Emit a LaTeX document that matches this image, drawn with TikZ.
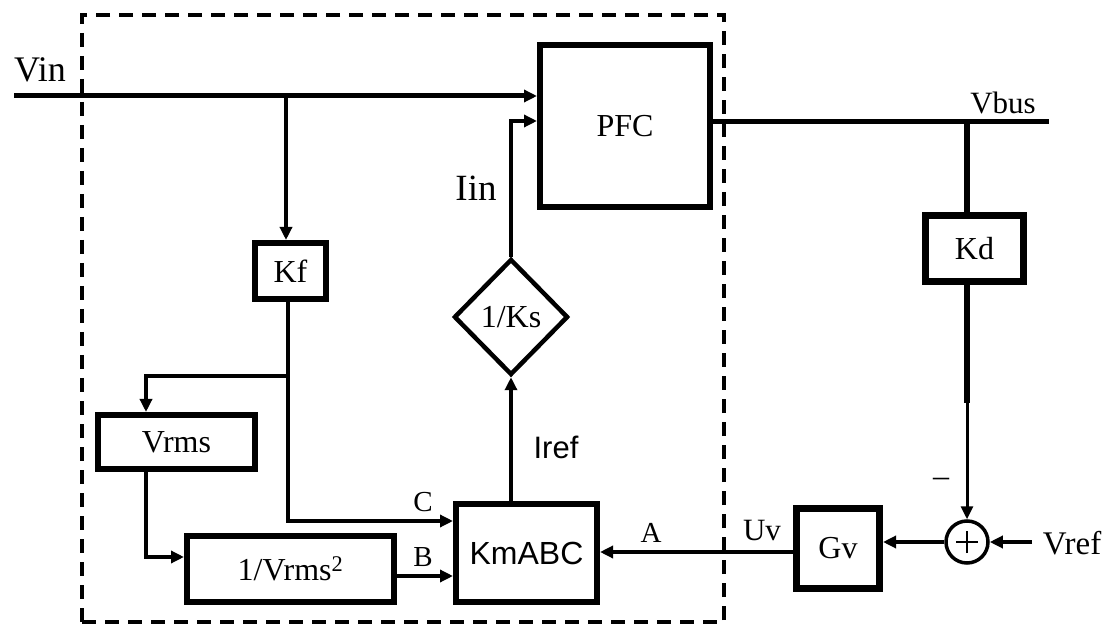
\documentclass[tikz,border=0pt]{standalone}
\usepackage{fontspec}
\setmainfont{Liberation Serif}
\setsansfont{Liberation Sans}
\usetikzlibrary{arrows.meta,shapes.geometric}
\begin{document}
\begin{tikzpicture}[x=1pt,y=-1pt,
  blk/.style={draw,line width=6pt,inner sep=0pt,font=\fontsize{32}{36}\selectfont},
  conn/.style={line width=3.5pt},
  thick5/.style={line width=5pt},
  arr/.style={conn,-{Triangle[length=13pt,width=12pt]}},
  txt/.style={font=\fontsize{32}{36}\selectfont,inner sep=0pt},
  small/.style={font=\fontsize{29}{32}\selectfont,inner sep=0pt},
  sanstxt/.style={font=\sffamily\fontsize{31}{34}\selectfont,inner sep=0pt}]
\useasboundingbox (0,0) rectangle (1109,628);
% dashed frame
\node[draw,line width=4.5pt,dash pattern=on 14pt off 9pt,minimum width=642pt,minimum height=607pt,inner sep=0pt] (frame) at (403,318.5) {};
% blocks
\node[blk,minimum width=170pt,minimum height=162pt] (pfc) at (625,126) {PFC};
\node[blk,minimum width=71pt,minimum height=56pt] (kf) at (290.5,271) {Kf};
\node[blk,minimum width=157pt,minimum height=54pt] (vrms) at (176.5,442) {Vrms};
\node[blk,minimum width=207pt,minimum height=66pt] (inv) at (290.5,569) {1/Vrms\textsuperscript{2}};
\node[blk,minimum width=141pt,minimum height=98pt,font=\sffamily\fontsize{32}{36}\selectfont] (km) at (526.5,553) {KmABC};
\node[blk,diamond,line width=4.5pt,minimum width=114pt,minimum height=116pt] (ks) at (511,317) {1/Ks};
\node[blk,line width=7pt,minimum width=98pt,minimum height=66pt] (kd) at (974.5,248.5) {Kd};
\node[blk,line width=7pt,minimum width=83pt,minimum height=80pt] (gv) at (838,548.5) {Gv};
\node[draw,circle,line width=3.5pt,minimum size=42pt,inner sep=0pt] (sum) at (967,542) {};
\draw[line width=2.5pt] ([xshift=-11pt]sum.center) -- ([xshift=11pt]sum.center)
  ([yshift=-11pt]sum.center) -- ([yshift=11pt]sum.center);
% coordinates
\coordinate (vinS) at (14,96);
\coordinate (jn) at (286,96);
\coordinate (br) at (288,376);
\coordinate (vbusE) at (1049,122);
\coordinate (vbJ) at (967,122);
\coordinate (vrefS) at (1032,542);
\coordinate (kdMid) at (967,403);
% Vin line
\draw[thick5,-{Triangle[length=13pt,width=12pt]}] (vinS) -- (vinS -| pfc.west);
\draw[arr] (jn) -- (jn |- kf.north);
% Kf down
\draw[conn] (kf.south -| br) -- (br);
\draw[arr] (br) -- (146,376) -- (146,376 |- vrms.north);
\draw[arr] (br) -- (288,521) -- (288,521 -| km.west);
\draw[arr] (146,0 |- vrms.south) -- (146,557) -- (146,557 -| inv.west);
\draw[arr] (inv.east |- 0,576) -- (km.west |- 0,576);
% Iref / Iin
\draw[arr] (km.north -| ks.south) -- (ks.south);
\draw[arr,line width=4.5pt] (ks.north) -- (511,121) -- (511,121 -| pfc.west);
% Vbus
\draw[thick5] (pfc.east |- vbusE) -- (vbusE);
\draw[line width=6pt] (vbJ) -- (vbJ |- kd.north);
\draw[line width=6pt] (kd.south -| kdMid) -- (kdMid);
\draw[arr,line width=3pt] (kdMid) -- (sum.north);
\draw[arr,line width=4.5pt] (vrefS) -- (sum.east);
\draw[arr,line width=4.5pt] (sum.west) -- (sum.west -| gv.east);
\draw[arr] (gv.west |- 0,552) -- (km.east |- 0,552);
% labels
\node[txt,font=\fontsize{36}{40}\selectfont] (lvin) at (40,70) {Vin};
\node[txt,font=\fontsize{37}{40}\selectfont] (liin) at (476,188) {Iin};
\node[sanstxt] (liref) at (556,447) {Iref};
\node[small] (lc) at (423,502) {C};
\node[small] (lb) at (423,557) {B};
\node[small] (la) at (651,533) {A};
\node[small,font=\fontsize{31}{34}\selectfont] (luv) at (762,531) {Uv};
\node[txt,font=\fontsize{31}{34}\selectfont] (lvbus) at (1003,103) {Vbus};
\node[txt,font=\fontsize{33}{36}\selectfont] (lvref) at (1072,543) {Vref};
\node[txt] (lminus) at (941,482) {–};
\end{tikzpicture}
\end{document}
